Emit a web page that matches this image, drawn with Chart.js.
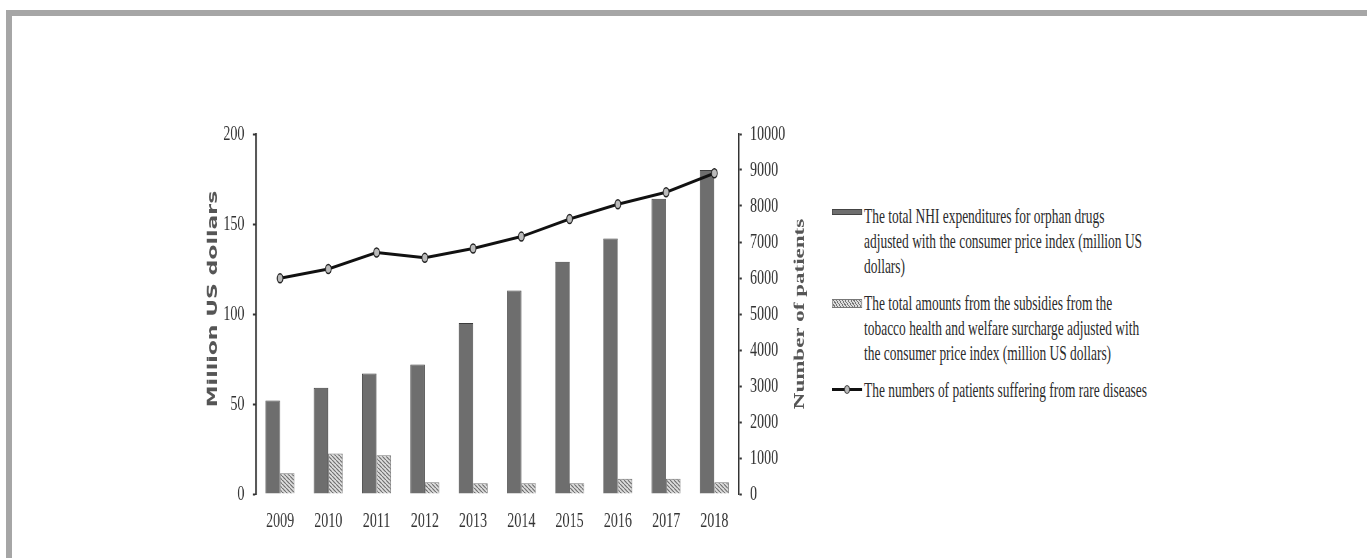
<!DOCTYPE html>
<html>
<head>
<meta charset="utf-8">
<script src="https://cdn.jsdelivr.net/npm/chart.js@4.4.0/dist/chart.umd.min.js"></script>
<style>
  body { margin: 0; background: #fff; width: 1367px; height: 558px; overflow: hidden; position: relative; }
  #frame { position: absolute; left: 6px; top: 10px; width: 1400px; height: 600px;
           border-top: 6px solid #a6a6a6; border-left: 6px solid #a6a6a6; }
  /* the source picture is squeezed sideways, so the chart is drawn wide and squeezed */
  #chartBox { position: absolute; left: 190px; top: 120px; width: 1000px; height: 420px;
              transform: scaleX(0.64); transform-origin: 0 0; }
  .item { position: absolute; left: 832px; transform: scaleX(0.64); transform-origin: 0 0;
          font-family: 'Liberation Serif', 'Times New Roman', serif; font-size: 21px;
          line-height: 25px; color: #2b2b2b; white-space: nowrap; }
  .item .sw { position: absolute; left: 0; width: 47px; box-sizing: border-box; }
  .item .txt { margin-left: 50px; }
  .solid { background: #6e6e6e; border: 1px solid #444; }
  .hatch { background: repeating-linear-gradient(45deg, #ddd 0 2px, #777 2px 3.2px); border: 1px solid #777; }
  .lineSw { background: #111; }
  .dot { position: absolute; width: 9px; height: 9px; border-radius: 50%; background: #bbb;
         border: 1.5px solid #222; box-sizing: border-box; }
</style>
</head>
<body>
<div id="frame"></div>
<div id="chartBox"><canvas id="rareChart"></canvas></div>

<div class="item" style="top:204px">
  <div class="sw solid" style="top:5px;height:6px"></div>
  <div class="txt">The total NHI expenditures for orphan drugs<br>adjusted with the consumer price index (million US<br>dollars)</div>
</div>
<div class="item" style="top:291px">
  <div class="sw hatch" style="top:8px;height:9px"></div>
  <div class="txt">The total amounts from the subsidies from the<br>tobacco health and welfare surcharge adjusted with<br>the consumer price index (million US dollars)</div>
</div>
<div class="item" style="top:378px">
  <div class="sw lineSw" style="top:10px;height:3px"></div>
  <div class="dot" style="left:19px;top:7px"></div>
  <div class="txt">The numbers of patients suffering from rare diseases</div>
</div>

<script>
// values
const years = ['2009', '2010', '2011', '2012', '2013', '2014', '2015', '2016', '2017', '2018'];
const nhiSpending = [52, 59, 67, 72, 95, 113, 129, 142, 164, 180];
const tobaccoSubsidy = [11.5, 22.5, 21.5, 6.5, 6, 6, 6, 8.5, 8.5, 6.5];
const patients = [5990, 6250, 6710, 6560, 6820, 7150, 7640, 8050, 8380, 8910];

const leftTitle = 'Million US dollars';
const rightTitle = 'Number of patients';

const serif = "'Liberation Serif', 'Times New Roman', serif";
Chart.defaults.font.family = serif;
Chart.defaults.color = '#333';

// diagonal hatch for the subsidy bars
function makeHatch() {
    const c = document.createElement('canvas');
    c.width = 6;
    c.height = 4;
    const g = c.getContext('2d');
    g.fillStyle = '#dedede';
    g.fillRect(0, 0, 6, 4);
    g.strokeStyle = '#6a6a6a';
    g.lineWidth = 1.3;
    for (let k = -1; k <= 1; k++) {
        g.beginPath();
        g.moveTo(k * 6, 0);
        g.lineTo(k * 6 + 6, 4);
        g.stroke();
    }
    return g.createPattern(c, 'repeat');
}

// both axis titles read bottom-to-top
const axisTitles = {
    id: 'axisTitles',
    afterDraw(chart) {
        const {ctx, chartArea} = chart;
        const midY = (chartArea.top + chartArea.bottom) / 2;
        ctx.save();
        ctx.fillStyle = '#555';
        ctx.textAlign = 'center';
        ctx.textBaseline = 'middle';

        ctx.save();
        ctx.font = "bold 22px 'DejaVu Sans', Verdana, sans-serif";
        ctx.translate(36, midY - 15);
        ctx.rotate(-Math.PI / 2);
        ctx.fillText(leftTitle, 0, 0);
        ctx.restore();

        ctx.font = 'bold 23px ' + serif;
        ctx.translate(953, midY);
        ctx.rotate(-Math.PI / 2);
        ctx.fillText(rightTitle, 0, 0);
        ctx.restore();
    }
};

// keep the top of the plot fixed by the layout padding only
function fixY(width) {
    return (scale) => {
        scale.width = width;
        scale.paddingTop = 0;
        scale.paddingBottom = 0;
    };
}

const ctx = document.getElementById('rareChart').getContext('2d');

const rareChart = new Chart(ctx, {
    type: 'bar',
    data: {
        labels: years,
        datasets: [{
            type: 'line',
            label: 'The numbers of patients suffering from rare diseases',
            data: patients,
            yAxisID: 'y1',
            borderColor: '#111',
            borderWidth: 3,
            pointRadius: 4.5,
            pointBackgroundColor: '#bbb',
            pointBorderColor: '#222',
            pointBorderWidth: 1.5,
            tension: 0,
            order: 0
        }, {
            label: 'The total NHI expenditures for orphan drugs',
            data: nhiSpending,
            yAxisID: 'y',
            backgroundColor: '#6e6e6e',
            borderColor: '#3c3c3c',
            borderWidth: 1,
            categoryPercentage: 0.6,
            barPercentage: 1.0,
            order: 1
        }, {
            label: 'The total amounts from the subsidies',
            data: tobaccoSubsidy,
            yAxisID: 'y',
            backgroundColor: makeHatch(),
            borderColor: '#777',
            borderWidth: 1,
            categoryPercentage: 0.6,
            barPercentage: 1.0,
            order: 1
        }]
    },
    options: {
        responsive: true,
        maintainAspectRatio: false,
        animation: false,
        layout: { padding: { top: 14 } },
        plugins: {
            legend: { display: false },
            tooltip: { enabled: false }
        },
        scales: {
            x: {
                grid: { display: false, drawTicks: false },
                border: { display: false },
                ticks: { font: { size: 22 }, color: '#333', padding: 14, maxRotation: 0 },
                afterFit: (scale) => { scale.height = 46; }
            },
            y: {
                position: 'left',
                min: 0,
                max: 200,
                ticks: { stepSize: 50, font: { size: 22 }, color: '#333', padding: 13 },
                grid: { drawOnChartArea: false, drawTicks: true, tickLength: 5, tickColor: '#333', tickWidth: 2 },
                border: { display: true, color: '#333', width: 2.5 },
                afterFit: fixY(103)
            },
            y1: {
                position: 'right',
                min: 0,
                max: 10000,
                ticks: {
                    stepSize: 1000, font: { size: 22 }, color: '#333', padding: 13,
                    callback: (value) => String(value)
                },
                grid: { drawOnChartArea: false, drawTicks: true, tickLength: 5, tickColor: '#333', tickWidth: 2 },
                border: { display: true, color: '#333', width: 2.5 },
                afterFit: fixY(143)
            }
        }
    },
    plugins: [axisTitles]
});
</script>
</body>
</html>
